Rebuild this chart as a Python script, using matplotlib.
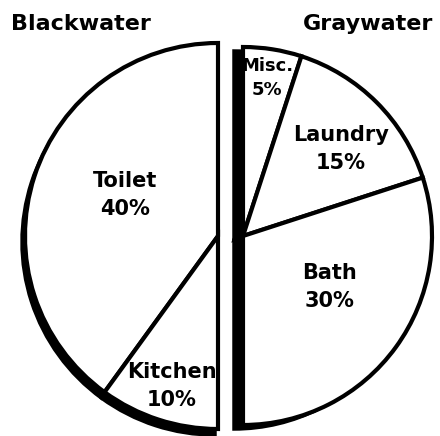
import matplotlib
matplotlib.use("Agg")
import matplotlib.pyplot as plt

# shares of household water use (fractions of the whole)
black_labels = ["Toilet", "Kitchen"]
black_values = [0.40, 0.10]
gray_labels = ["Misc.", "Laundry", "Bath"]
gray_values = [0.05, 0.15, 0.30]

H = 436  # pixel height, y is flipped below


def py(y):
    return H - y


fig = plt.figure(figsize=(4.40, 4.36), dpi=100)
ax = fig.add_axes([0, 0, 1, 1])
plt.rcParams["font.family"] = ["DejaVu Sans"]

left_center = (218, py(236))
right_center = (243, py(236))
left_r = 193
right_r = 189

# drop shadow of each half, shifted down-left
ax.pie(black_values, normalize=False, startangle=90, counterclock=True, radius=left_r,
       center=(left_center[0] - 3, left_center[1] - 6), colors=["black"] * 2,
       wedgeprops=dict(edgecolor="black", linewidth=2.5))
ax.pie(gray_values, normalize=False, startangle=90, counterclock=False, radius=right_r,
       center=(right_center[0] - 9, right_center[1] - 4), colors=["black"] * 3,
       wedgeprops=dict(edgecolor="black", linewidth=2.5))

ax.pie(black_values, normalize=False, startangle=90, counterclock=True, radius=left_r,
       center=left_center, colors=["white"] * 2,
       wedgeprops=dict(edgecolor="black", linewidth=3.0, joinstyle="miter"))
ax.pie(gray_values, normalize=False, startangle=90, counterclock=False, radius=right_r,
       center=right_center, colors=["white"] * 3,
       wedgeprops=dict(edgecolor="black", linewidth=3.0, joinstyle="miter"))

label_pos = {
    "Toilet": (125, 195),
    "Kitchen": (172, 386),
    "Misc.": (267, 78),
    "Laundry": (341, 149),
    "Bath": (330, 287),
}
sizes = {"Misc.": 13}
for name, val in zip(black_labels + gray_labels, black_values + gray_values):
    x, y = label_pos[name]
    ax.text(x, py(y), f"{name}\n{round(val * 100)}%", ha="center", va="center",
            fontsize=sizes.get(name, 15), fontweight="bold", linespacing=1.45)

ax.text(81, py(24), "Blackwater", ha="center", va="center", fontsize=16, fontweight="bold")
ax.text(368, py(24), "Graywater", ha="center", va="center", fontsize=16, fontweight="bold")

ax.set_xlim(0, 440)
ax.set_ylim(0, H)
ax.set_aspect("equal")
ax.axis("off")

plt.savefig("out.png", dpi=100)
plt.close()
